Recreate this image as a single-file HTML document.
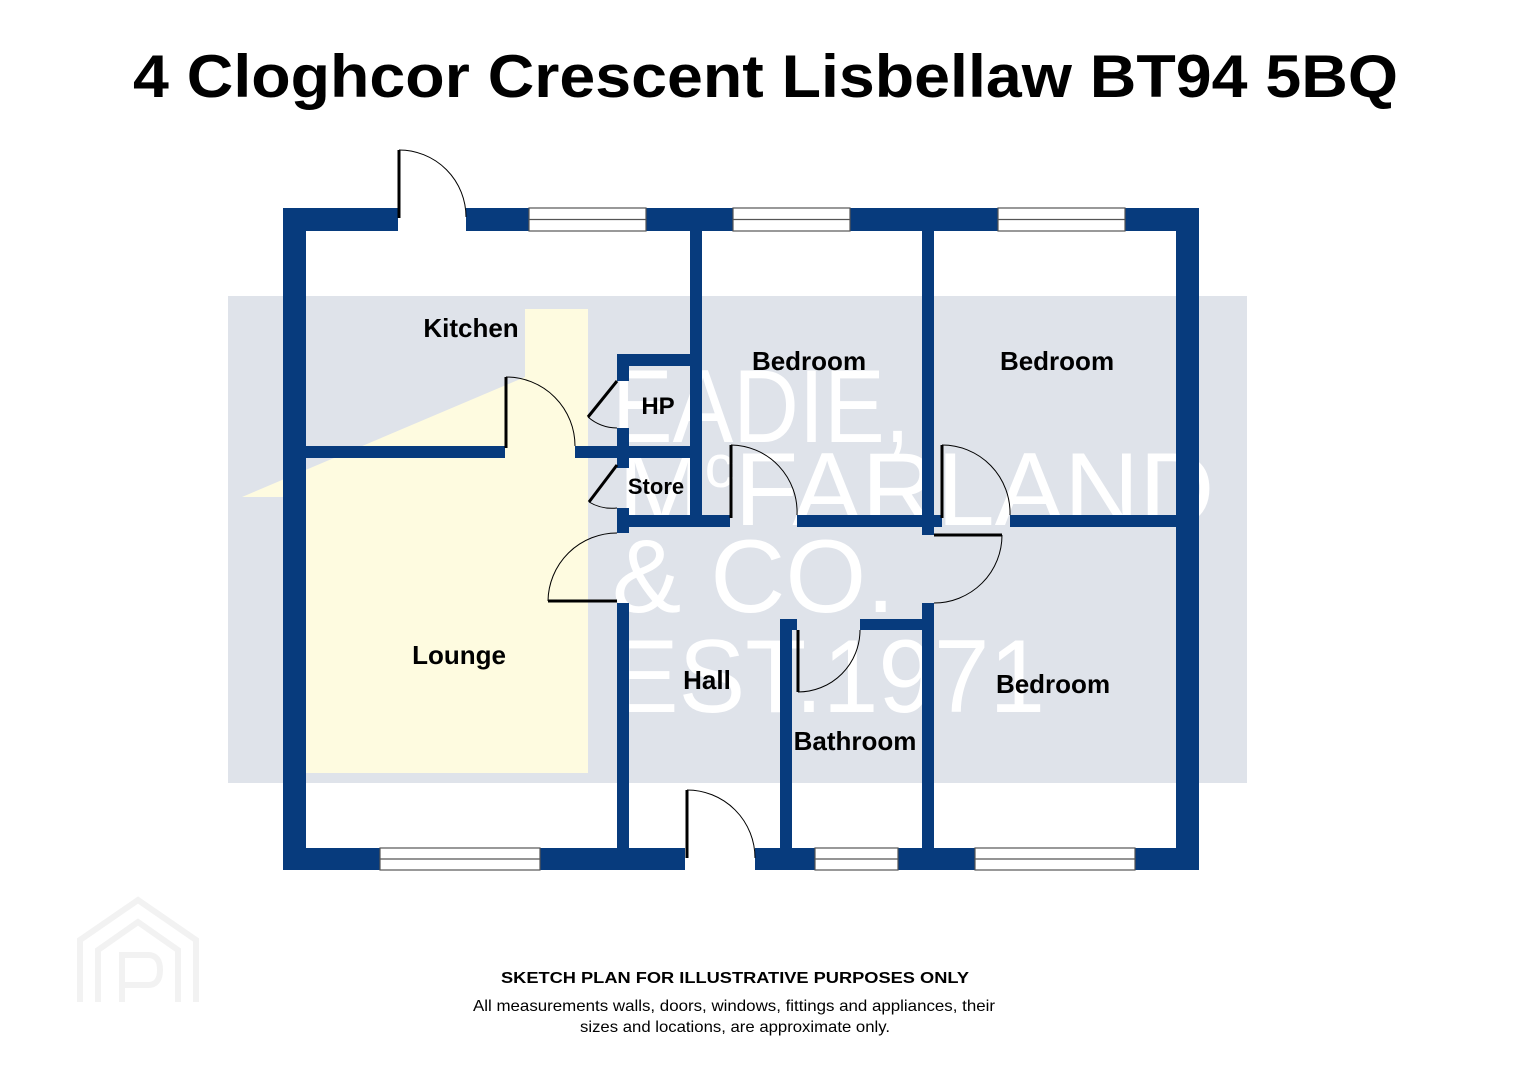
<!DOCTYPE html>
<html><head><meta charset="utf-8"><style>
html,body{margin:0;padding:0;background:#fff;}
svg{display:block;}
</style></head><body>
<svg width="1528" height="1080" viewBox="0 0 1528 1080" xmlns="http://www.w3.org/2000/svg" font-family="Liberation Sans, sans-serif">
<rect width="1528" height="1080" fill="#fff"/>
<text x="133" y="97" font-size="60" font-weight="bold" fill="#000" textLength="1265" lengthAdjust="spacingAndGlyphs">4 Cloghcor Crescent Lisbellaw BT94 5BQ</text>
<!-- watermark bg -->
<rect x="228" y="296" width="1019" height="487" fill="#dfe3ea"/>
<polygon points="242,497 525,377 525,309 588,309 588,773 306,773 306,497" fill="#fefbe0"/>
<g fill="#fff" font-size="104" font-weight="normal">
<text x="612" y="442" textLength="298" lengthAdjust="spacingAndGlyphs">EADIE,</text>
<text x="618" y="525">M<tspan font-size="60" dy="-38">c</tspan><tspan dy="38">FARLAND</tspan></text>
<text x="612" y="612">&amp; CO.</text>
<text x="612" y="712" textLength="433" lengthAdjust="spacingAndGlyphs">EST.1971</text>
</g>
<!-- walls -->
<g fill="#073b7d">
<rect x="283" y="208" width="115" height="23"/>
<rect x="466" y="208" width="63" height="23"/>
<rect x="646" y="208" width="87" height="23"/>
<rect x="850" y="208" width="148" height="23"/>
<rect x="1125" y="208" width="74" height="23"/>
<rect x="283" y="208" width="23" height="662"/>
<rect x="1176" y="208" width="23" height="662"/>
<rect x="283" y="848" width="97" height="22"/>
<rect x="540" y="848" width="145" height="22"/>
<rect x="755" y="848" width="60" height="22"/>
<rect x="898" y="848" width="77" height="22"/>
<rect x="1135" y="848" width="64" height="22"/>
<rect x="690" y="231" width="12" height="296"/>
<rect x="922" y="231" width="12" height="304"/>
<rect x="922" y="603" width="12" height="245"/>
<rect x="306" y="446" width="199" height="12"/>
<rect x="575" y="446" width="127" height="12"/>
<rect x="617" y="354" width="85" height="12"/>
<rect x="617" y="354" width="12" height="27"/>
<rect x="617" y="428" width="12" height="40"/>
<rect x="617" y="508" width="12" height="25"/>
<rect x="617" y="515" width="113" height="12"/>
<rect x="797" y="515" width="145" height="12"/>
<rect x="1010" y="515" width="166" height="12"/>
<rect x="617" y="603" width="12" height="245"/>
<rect x="780" y="619" width="17" height="11"/>
<rect x="860" y="619" width="62" height="11"/>
<rect x="780" y="619" width="12" height="229"/>
</g>
<!-- windows -->
<g fill="#fff" stroke="#555" stroke-width="1.2">
<rect x="529" y="208" width="117" height="23"/><line x1="529" y1="219.5" x2="646" y2="219.5"/>
<rect x="733" y="208" width="117" height="23"/><line x1="733" y1="219.5" x2="850" y2="219.5"/>
<rect x="998" y="208" width="127" height="23"/><line x1="998" y1="219.5" x2="1125" y2="219.5"/>
<rect x="380" y="848" width="160" height="22"/><line x1="380" y1="859" x2="540" y2="859"/>
<rect x="815" y="848" width="83" height="22"/><line x1="815" y1="859" x2="898" y2="859"/>
<rect x="975" y="848" width="160" height="22"/><line x1="975" y1="859" x2="1135" y2="859"/>
</g>
<!-- doors -->
<g fill="none" stroke="#000">
<line x1="399" y1="150" x2="399" y2="218" stroke-width="3"/><path d="M399,150 A67,67 0 0 1 466,217" stroke-width="1"/>
<line x1="506" y1="377" x2="506" y2="448" stroke-width="3"/><path d="M506,377 A69,69 0 0 1 575,446" stroke-width="1"/>
<line x1="617" y1="381" x2="588" y2="417" stroke-width="3"/><path d="M588,417 A45,45 0 0 0 617,428" stroke-width="1"/>
<line x1="617" y1="465" x2="589" y2="502" stroke-width="3"/><path d="M589,502 A45,45 0 0 0 617,508" stroke-width="1"/>
<line x1="548" y1="601" x2="617" y2="601" stroke-width="3"/><path d="M548,601 A69,69 0 0 1 617,533" stroke-width="1"/>
<line x1="731" y1="445" x2="731" y2="518" stroke-width="3"/><path d="M731,445 A67,67 0 0 1 797,515" stroke-width="1"/>
<line x1="942" y1="445" x2="942" y2="518" stroke-width="3"/><path d="M942,445 A68,68 0 0 1 1010,515" stroke-width="1"/>
<line x1="934" y1="535" x2="1002" y2="535" stroke-width="3"/><path d="M1002,535 A68,68 0 0 1 934,603" stroke-width="1"/>
<line x1="798" y1="630" x2="798" y2="692" stroke-width="3"/><path d="M798,692 A62,62 0 0 0 860,630" stroke-width="1"/>
<line x1="687" y1="790" x2="687" y2="858" stroke-width="3"/><path d="M687,790 A68,68 0 0 1 755,858" stroke-width="1"/>
</g>
<!-- labels -->
<g font-size="26" font-weight="bold" fill="#000" text-anchor="middle">
<text x="471" y="337">Kitchen</text>
<text x="809" y="370">Bedroom</text>
<text x="1057" y="370">Bedroom</text>
<text x="658" y="414" font-size="24">HP</text>
<text x="656" y="494" font-size="22">Store</text>
<text x="459" y="664">Lounge</text>
<text x="707" y="689">Hall</text>
<text x="1053" y="693">Bedroom</text>
<text x="855" y="750">Bathroom</text>
</g>
<!-- PP logo -->
<g fill="none" stroke="#f2f2f2" stroke-width="6">
<path d="M80,1002 L80,940 L138,900 L196,940 L196,1002"/>
<path d="M98,1002 L98,950 L138,922 L178,950 L178,1002"/>
<path d="M122,1002 L122,955 L148,955 Q160,955 160,970 Q160,985 148,985 L122,985"/>
</g>
<g text-anchor="middle" fill="#000">
<text x="735" y="983" font-size="16" font-weight="bold" textLength="468" lengthAdjust="spacingAndGlyphs">SKETCH PLAN FOR ILLUSTRATIVE PURPOSES ONLY</text>
<text x="734" y="1011" font-size="16" textLength="522" lengthAdjust="spacingAndGlyphs">All measurements walls, doors, windows, fittings and appliances, their</text>
<text x="735" y="1032" font-size="16" textLength="310" lengthAdjust="spacingAndGlyphs">sizes and locations, are approximate only.</text>
</g>
</svg>
</body></html>
